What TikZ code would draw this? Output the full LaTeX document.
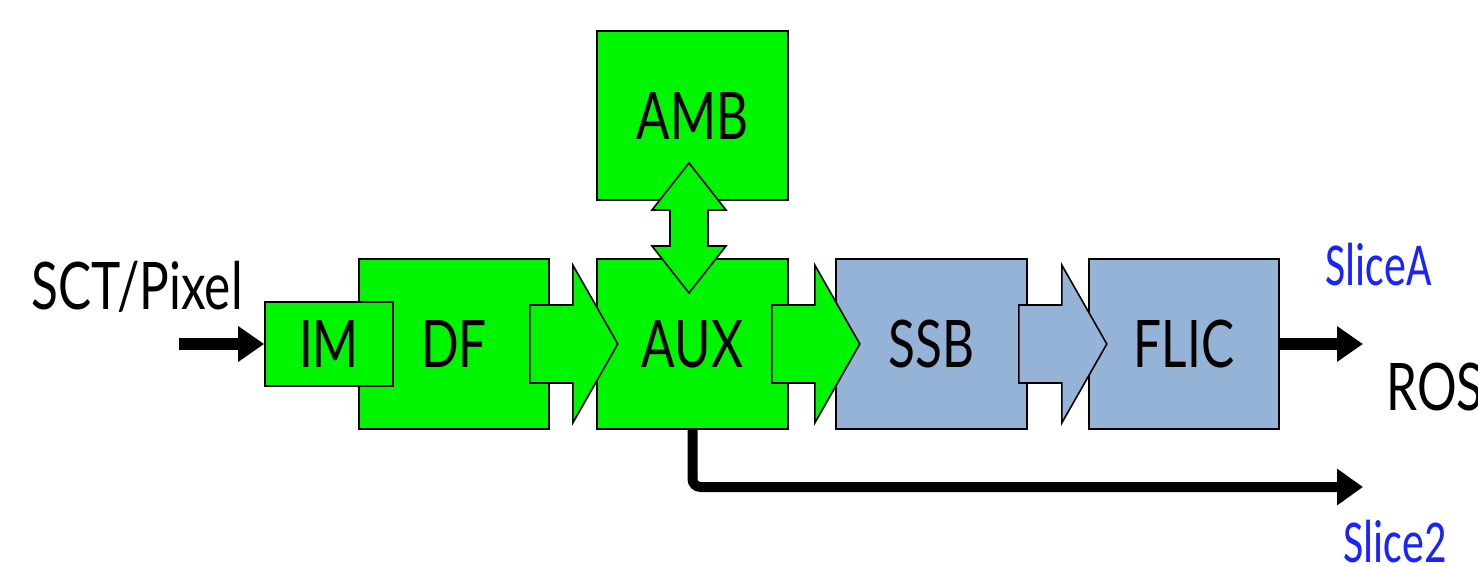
\documentclass[tikz,border=0pt]{standalone}
\usepackage{fontspec}
\setmainfont[FakeStretch=0.755]{Lato}
\newfontfamily\labelfont[FakeStretch=0.72]{Carlito}
\usetikzlibrary{arrows.meta,calc}

\definecolor{chipgreen}{RGB}{0,245,0}
\definecolor{boardblue}{RGB}{149,179,215}
\definecolor{slicetext}{RGB}{25,35,255}

\tikzset{
  blk/.style={draw=black, line width=0.8pt, inner sep=0pt,
    font=\fontsize{32.8pt}{36pt}\selectfont},
  greenblk/.style={blk, fill=chipgreen},
  blueblk/.style={blk, fill=boardblue},
  bigtext/.style={font=\fontsize{32.8pt}{36pt}\selectfont, inner sep=0pt},
  slicelabel/.style={font=\labelfont\fontsize{30.5pt}{34pt}\selectfont,
    text=slicetext, inner sep=0pt},
  flow/.style={line width=6pt, -{Triangle[length=13pt,width=17pt]}},
  thinflow/.style={line width=5pt, -{Triangle[length=13pt,width=17.5pt]}},
  pics/blockarrow/.style={code={
    \draw[pic actions, line width=0.8pt, line join=miter]
      (0,-39) -- (43,-39) -- (43,-79) -- (88,0) -- (43,79) -- (43,39)
      -- (0,39) -- cycle;}},
  pics/updown/.style={code={
    \draw[pic actions, line width=0.8pt, line join=miter]
      (0,-65) -- (37,-18) -- (19,-18) -- (19,18) -- (37,18) -- (0,65)
      -- (-37,18) -- (-19,18) -- (-19,-18) -- (-37,-18) -- cycle;}}
}

\begin{document}
\begin{tikzpicture}[x=0.5pt, y=-0.5pt]
  \clip (0,0) rectangle (1478,567);
  \fill[white] (0,0) rectangle (1478,567);

  % processing boards
  \node[greenblk, minimum width=95.5pt, minimum height=84.5pt] (AMB) at (692.5,115.5) {AMB};
  \node[greenblk, minimum width=95pt, minimum height=85pt] (DF) at (454,344) {};
  \node[bigtext] (DFtext) at (454,344) {DF};
  \node[greenblk, minimum width=64pt, minimum height=42pt] (IM) at (329,344) {IM};
  \node[greenblk, minimum width=95.5pt, minimum height=85pt] (AUX) at (692.5,344) {AUX};
  \node[blueblk, minimum width=95.5pt, minimum height=85pt] (SSB) at (931.5,344) {SSB};
  \node[blueblk, minimum width=95pt, minimum height=85pt] (FLIC) at (1184,344) {FLIC};

  % wide data-flow arrows between boards
  \pic[fill=chipgreen, draw=black] at ($(DF.east)+(-20,0)$) {blockarrow};
  \pic[fill=chipgreen, draw=black] at ($(AUX.east)+(-17,0)$) {blockarrow};
  \pic[fill=boardblue, draw=black] at ($(SSB.east)+(-9,0)$) {blockarrow};

  % AMB <-> AUX link
  \pic[fill=chipgreen, draw=black] at (689,228) {updown};

  % inputs and outputs
  \node[bigtext, anchor=base west] (input) at (31,309) {SCT/Pixel};
  \coordinate (instart) at (179,344);
  \draw[flow] (instart) -- (IM.west);

  \coordinate (roshead) at (1363,344);
  \draw[flow] (FLIC.east) -- (roshead);
  \node[slicelabel, anchor=base west] (sliceA) at (1325,285) {SliceA};
  \node[bigtext, anchor=base west] (ros) at (1386,410) {ROS};

  \coordinate (slice2head) at (1363,487);
  \draw[thinflow, rounded corners=4pt] (AUX.south) |- (slice2head);
  \node[slicelabel, anchor=base west] (slice2) at (1343,562) {Slice2};
\end{tikzpicture}
\end{document}
